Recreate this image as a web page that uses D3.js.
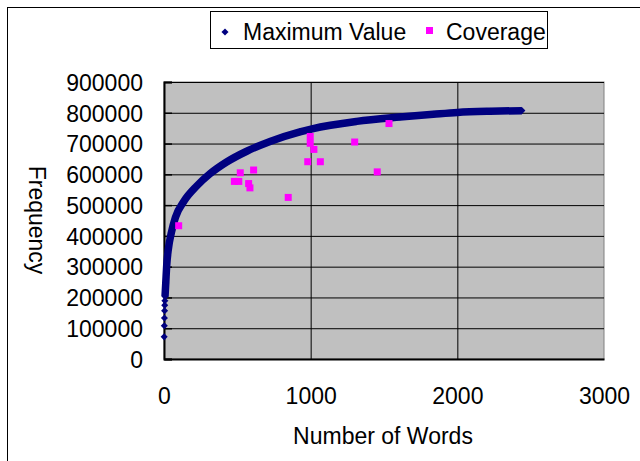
<!DOCTYPE html>
<html>
<head>
<meta charset="utf-8">
<script src="https://cdn.jsdelivr.net/npm/d3@7"></script>
<style>
  body { margin: 0; background: #fff; }
  svg text { font-family: "Liberation Sans", Arial, sans-serif; fill: #000; }
</style>
</head>
<body>
<div id="chart"></div>
<script>

// Maximum Value series
var maxWords = [1, 2, 3, 4, 5, 6, 7, 12, 18, 29, 50, 78, 138, 223, 314, 427, 564, 723, 927, 1010, 1314, 1609, 1836, 2000, 2223, 2440];
var maxFreq  = [72000, 108000, 133000, 157000, 175000, 189000, 203000, 247000, 301000, 355000, 410000, 460000, 514000, 562000, 602000, 640000, 675000, 707000, 738000, 748000, 772000, 786000, 795000, 801000, 805000, 807000];

// Coverage series
var covWords = [100, 480, 510, 520, 577, 586, 611, 847, 997, 997, 1022, 980, 1066, 1300, 1454, 1534];
var covFreq  = [433000, 577000, 577000, 605000, 570000, 556000, 614000, 525000, 723000, 701000, 681000, 641000, 641000, 705000, 608000, 765000];

var xTicks = [0, 1000, 2000, 3000];
var yTicks = [0, 100000, 200000, 300000, 400000, 500000, 600000, 700000, 800000, 900000];

var W = 640, H = 461;
var margin = { top: 82, right: 36, bottom: 102, left: 164 },
    width = W - margin.left - margin.right,
    height = H - margin.top - margin.bottom;

var svg = d3.select("#chart").append("svg")
    .attr("width", W)
    .attr("height", H);

// outer chart border
svg.append("rect")
    .attr("x", 7.5).attr("y", 7.5)
    .attr("width", W).attr("height", H)
    .attr("fill", "#fff")
    .attr("stroke", "#000");

var g = svg.append("g")
    .attr("transform", "translate(" + margin.left + "," + margin.top + ")");

var x = d3.scaleLinear().domain([0, 3000]).range([0, width]);
var y = d3.scaleLinear().domain([0, 900000]).range([height, 0]);

// plot area
g.append("rect")
    .attr("width", width).attr("height", height)
    .attr("fill", "#c0c0c0")
    .attr("stroke", "#808080");

// gridlines
g.append("g")
    .attr("class", "grid")
    .call(d3.axisLeft(y).tickValues(yTicks).tickSize(-width).tickFormat(""))
    .call(function(s) { s.select(".domain").remove(); s.selectAll("line").attr("stroke", "#000"); });

g.append("g")
    .attr("class", "grid")
    .attr("transform", "translate(0," + height + ")")
    .call(d3.axisBottom(x).tickValues(xTicks.slice(1, 3)).tickSize(-height).tickFormat(""))
    .call(function(s) { s.select(".domain").remove(); s.selectAll("line").attr("stroke", "#000"); });

// axes
var yAxis = g.append("g")
    .call(d3.axisLeft(y).tickValues(yTicks).tickSize(-8).tickPadding(21).tickFormat(d3.format("d")));
yAxis.select(".domain").attr("stroke", "#000").attr("stroke-width", 2);
yAxis.selectAll("line").attr("stroke", "#000").attr("stroke-width", 1.5);
yAxis.selectAll("text").style("font-size", "23px").attr("dy", "0.36em");

var xAxis = g.append("g")
    .attr("transform", "translate(0," + height + ")")
    .call(d3.axisBottom(x).tickValues(xTicks).tickSize(0).tickPadding(29).tickFormat(d3.format("d")));
xAxis.select(".domain").attr("stroke", "#000").attr("stroke-width", 2);
xAxis.selectAll("text").style("font-size", "23px");

// Maximum Value: dense band of markers
var line = d3.line()
    .x(function(d) { return x(d[0]); })
    .y(function(d) { return y(d[1]); })
    .curve(d3.curveMonotoneX);

var maxData = maxWords.map(function(w, i) { return [w, maxFreq[i]]; });

g.append("path")
    .datum(maxData.slice(6))
    .attr("d", line)
    .attr("fill", "none")
    .attr("stroke", "#000080")
    .attr("stroke-width", 7.5)
    .attr("stroke-linejoin", "round");

var diamond = d3.symbol().type(d3.symbolSquare).size(25);

g.selectAll(".maxpt")
    .data(maxData)
    .enter().append("path")
    .attr("class", "maxpt")
    .attr("d", diamond)
    .attr("transform", function(d) { return "translate(" + x(d[0]) + "," + y(d[1]) + ") rotate(45)"; })
    .attr("fill", "#000080");

// Coverage
g.selectAll(".cov")
    .data(covWords.map(function(w, i) { return [w, covFreq[i]]; }))
    .enter().append("rect")
    .attr("class", "cov")
    .attr("x", function(d) { return x(d[0]) - 3.5; })
    .attr("y", function(d) { return y(d[1]) - 3.5; })
    .attr("width", 7).attr("height", 7)
    .attr("fill", "#ff00ff");

// axis titles
svg.append("text")
    .attr("x", 383).attr("y", 444)
    .attr("text-anchor", "middle")
    .style("font-size", "23px")
    .text("Number of Words");

svg.append("text")
    .attr("transform", "translate(29,220) rotate(90)")
    .attr("text-anchor", "middle")
    .style("font-size", "23px")
    .text("Frequency");

// legend
var legend = svg.append("g");
legend.append("rect")
    .attr("x", 210.5).attr("y", 11.5)
    .attr("width", 337).attr("height", 37)
    .attr("fill", "#fff").attr("stroke", "#000");
legend.append("path")
    .attr("d", diamond)
    .attr("transform", "translate(225,32) rotate(45)")
    .attr("fill", "#000080");
legend.append("text")
    .attr("x", 243).attr("y", 40)
    .style("font-size", "23px")
    .text("Maximum Value");
legend.append("rect")
    .attr("x", 426).attr("y", 27).attr("width", 7).attr("height", 7)
    .attr("fill", "#ff00ff");
legend.append("text")
    .attr("x", 446).attr("y", 40)
    .style("font-size", "23px")
    .text("Coverage");

</script>
</body>
</html>
